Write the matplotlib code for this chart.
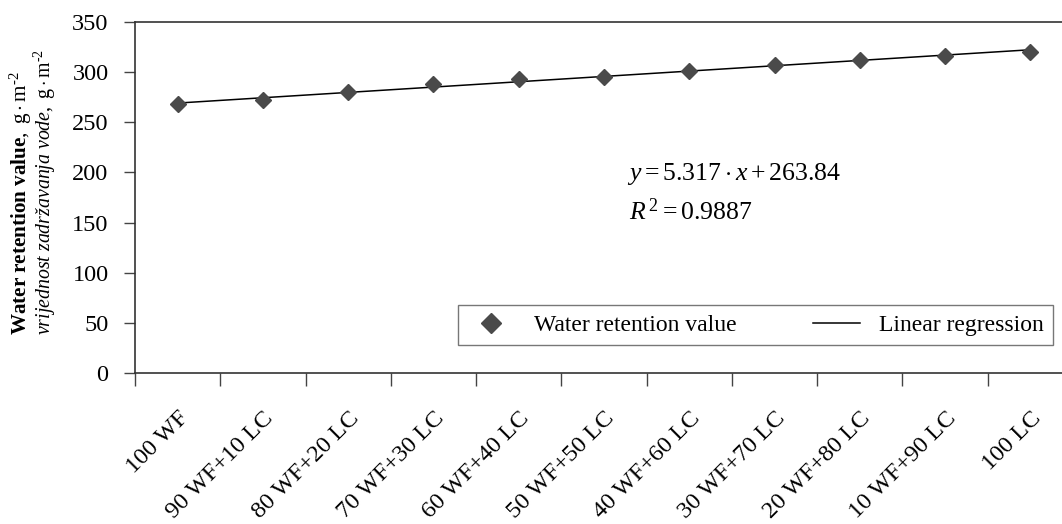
import numpy as np
import matplotlib
matplotlib.use("Agg")
import matplotlib.pyplot as plt
from matplotlib.ticker import FixedLocator, NullFormatter

plt.rcParams['font.family'] = ['Liberation Serif', 'DejaVu Serif']
plt.rcParams['mathtext.fontset'] = 'custom'
plt.rcParams['mathtext.rm'] = 'Liberation Serif'
plt.rcParams['mathtext.it'] = 'Liberation Serif:italic'
plt.rcParams['mathtext.bf'] = 'Liberation Serif:bold'

# mixtures of wood fibre (WF) and leather cellulose (LC)
mixtures = ["100 WF", "90 WF+10 LC", "80 WF+20 LC", "70 WF+30 LC", "60 WF+40 LC",
            "50 WF+50 LC", "40 WF+60 LC", "30 WF+70 LC", "20 WF+80 LC",
            "10 WF+90 LC", "100 LC"]
wrv = [268, 272, 280, 288, 293, 295, 301, 307, 312, 316, 320]

slope = 5.317
intercept = 263.84
r2 = 0.9887

W, H = 1062, 524
fig = plt.figure(figsize=(W / 100, H / 100), dpi=100)
ax = fig.add_axes([135 / W, 151 / H, (1073 - 135) / W, 351 / H])

x = np.arange(1, len(mixtures) + 1)
ax.plot(x, wrv, linestyle='none', marker='D', markersize=8.6,
        color='#4a4a4a', label='Water retention value', zorder=3)
ax.plot(x, slope * x + intercept, color='black', lw=1.1,
        label='Linear regression', zorder=2)

ax.set_xlim(0.5, len(mixtures) + 0.5)
ax.set_ylim(0, 350)
ax.set_yticks(np.arange(0, 351, 50))

# tick marks between categories, labels at category centres
ax.xaxis.set_major_locator(FixedLocator(np.arange(0.5, len(mixtures) + 1, 1)))
ax.xaxis.set_major_formatter(NullFormatter())
ax.xaxis.set_minor_locator(FixedLocator(x))
ax.set_xticklabels(mixtures, minor=True, rotation=45, ha='right',
                   rotation_mode='anchor', fontsize=17.5)
ax.tick_params(axis='x', which='minor', length=0, pad=25)
ax.tick_params(axis='x', which='major', length=9, width=1, color='#444444',
               direction='out')
ax.tick_params(axis='y', length=8, width=1, color='#444444', direction='out',
               pad=11, labelsize=17.5)

for side in ['left', 'bottom', 'top', 'right']:
    ax.spines[side].set_color('#333333')
    ax.spines[side].set_linewidth(1.2)

# two-line axis title: English in bold, Croatian in italic
unit = r"\mathrm{g}\cdot\mathrm{m}^{\text{-}2}"
fig.text(21 / W, 1 - 335 / H,
         r"$\mathbf{Water\ retention\ value},\ " + unit + "$",
         rotation=90, rotation_mode='anchor', ha='left', va='center', fontsize=15.2)
fig.text(45 / W, 1 - 335 / H,
         r"$\mathit{vrijednost\ zadržavanja\ vode},\ " + unit + "$",
         rotation=90, rotation_mode='anchor', ha='left', va='center', fontsize=14.3)

fig.text(627 / W, 1 - 180 / H,
         r"$y = %.3f\cdot x + %.2f$" % (slope, intercept),
         ha='left', va='baseline', fontsize=18.5)
fig.text(629 / W, 1 - 220 / H, r"$R^{\,2} = %.4f$" % r2,
         ha='left', va='baseline', fontsize=18.5)

leg = ax.legend(loc='upper left', bbox_to_anchor=(458 / W, 1 - 305 / H),
                bbox_transform=fig.transFigure, borderaxespad=0, ncol=2,
                frameon=True, fancybox=False, fontsize=17, markerscale=1.2,
                handlelength=2.0, columnspacing=3.25, handletextpad=0.8,
                borderpad=0.4)
leg.get_frame().set_edgecolor('#555555')
leg.get_frame().set_linewidth(1.0)

fig.savefig("out.png", dpi=100)
